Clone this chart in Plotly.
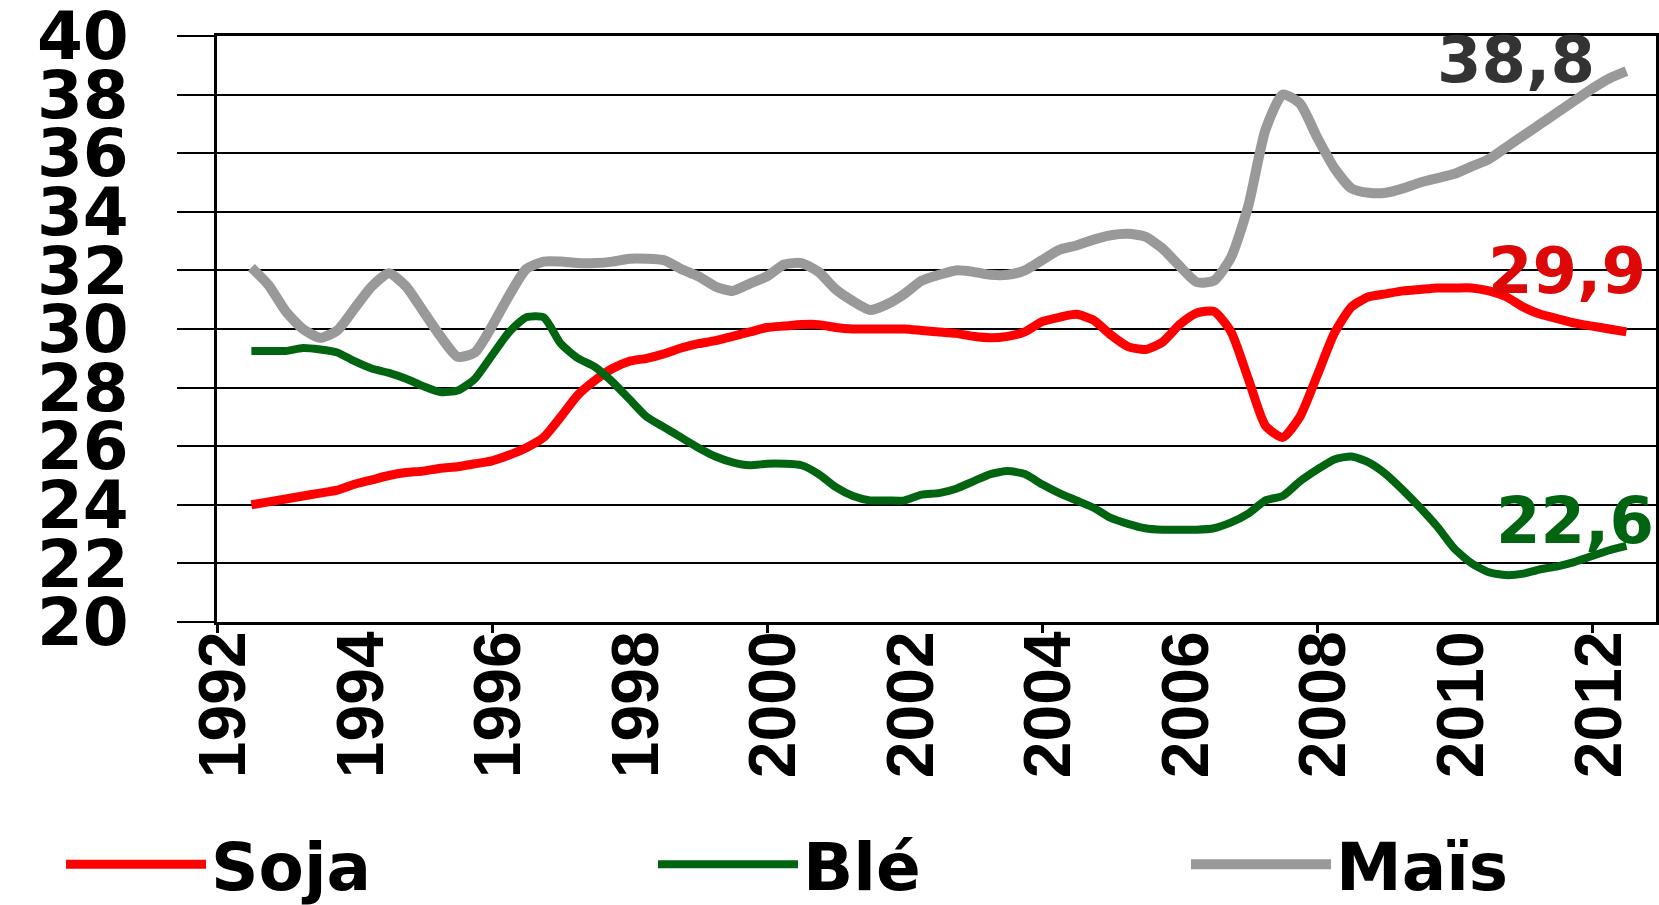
import plotly.graph_objects as go

# Quarterly observation dates (fractional years), mid-1992 to mid-2012
periods = [1992.5 + 0.25 * i for i in range(81)]

soja = [
    24.0, 24.1, 24.2, 24.3, 24.4, 24.5, 24.7, 24.85, 25.0, 25.1,
    25.15, 25.25, 25.3, 25.4, 25.5, 25.7, 25.95, 26.3, 27.0, 27.75,
    28.25, 28.65, 28.9, 29.0, 29.15, 29.35, 29.5, 29.6, 29.75, 29.9,
    30.05, 30.1, 30.15, 30.15, 30.05, 30.0, 30.0, 30.0, 30.0, 29.95,
    29.9, 29.85, 29.75, 29.7, 29.75, 29.9, 30.25, 30.4, 30.5, 30.3,
    29.8, 29.4, 29.3, 29.55, 30.15, 30.55, 30.6, 29.9, 28.3, 26.7,
    26.3, 27.0, 28.4, 29.85, 30.75, 31.1, 31.2, 31.3, 31.35, 31.4,
    31.4, 31.4, 31.3, 31.1, 30.75, 30.5, 30.35, 30.2, 30.1, 30.0,
    29.9,
]
ble = [
    29.25, 29.25, 29.25, 29.35, 29.3, 29.2, 28.9, 28.65, 28.5, 28.3,
    28.05, 27.85, 27.9, 28.3, 29.1, 29.9, 30.4, 30.4, 29.5, 29.0,
    28.7, 28.2, 27.6, 27.0, 26.65, 26.3, 25.95, 25.65, 25.45, 25.35,
    25.4, 25.4, 25.35, 25.05, 24.6, 24.3, 24.15, 24.15, 24.15, 24.35,
    24.4, 24.55, 24.8, 25.05, 25.15, 25.05, 24.7, 24.4, 24.15, 23.9,
    23.55, 23.35, 23.2, 23.15, 23.15, 23.15, 23.2, 23.4, 23.7, 24.15,
    24.3, 24.8, 25.2, 25.55, 25.65, 25.45, 25.05, 24.5, 23.9, 23.25,
    22.5, 22.0, 21.7, 21.6, 21.65, 21.8, 21.9, 22.05, 22.25, 22.45,
    22.6,
]
mais = [
    32.1, 31.5, 30.6, 30.0, 29.7, 29.95, 30.7, 31.45, 31.9, 31.45,
    30.6, 29.75, 29.05, 29.2, 30.1, 31.15, 32.05, 32.3, 32.3, 32.25,
    32.25, 32.3, 32.4, 32.4, 32.35, 32.05, 31.8, 31.45, 31.3, 31.55,
    31.8, 32.2, 32.25, 31.95, 31.35, 30.95, 30.65, 30.85, 31.2, 31.65,
    31.85, 32.0, 31.95, 31.85, 31.85, 32.0, 32.35, 32.7, 32.85, 33.05,
    33.2, 33.25, 33.15, 32.75, 32.15, 31.6, 31.65, 32.45, 34.2, 36.8,
    38.0, 37.7, 36.55, 35.5, 34.8, 34.65, 34.65, 34.8, 35.0, 35.15,
    35.3, 35.55, 35.8, 36.2, 36.6, 37.0, 37.4, 37.8, 38.2, 38.55,
    38.8,
]

series_names = ["Soja", "Blé", "Maïs"]
series_values = [soja, ble, mais]
line_colors = ["#FF0000", "#006410", "#999999"]
line_widths = [9, 8, 10]
label_colors = ["#DD0808", "#006410", "#333333"]
label_shifts = [(22, 61), (30, 25), (-29, 11)]
legend_ids = ["legend", "legend2", "legend3"]
legend_x = [0.0368, 0.3936, 0.7149]

label_years = [1992, 1994, 1996, 1998, 2000, 2002, 2004, 2006, 2008, 2010, 2012]
tick_years = [1992, 1996, 2000, 2004, 2008, 2012]
y_ticks = [20, 22, 24, 26, 28, 30, 32, 34, 36, 38, 40]

x_range = [1992, 2012.93]

fig = go.Figure()
for name, vals, col, w, lg in zip(series_names, series_values, line_colors,
                                  line_widths, legend_ids):
    fig.add_trace(go.Scatter(
        x=periods, y=vals, name=name, mode="lines", legend=lg,
        line=dict(color=col, width=w, shape="spline", smoothing=0.6),
    ))

# invisible trace carrying the secondary x axis (tick marks every 4 years)
fig.add_trace(go.Scatter(x=[None], y=[None], xaxis="x2", showlegend=False,
                         hoverinfo="skip"))

for vals, col, (dx, dy) in zip(series_values, label_colors, label_shifts):
    fig.add_annotation(
        x=periods[-1], y=vals[-1],
        text=f"{vals[-1]:.1f}".replace(".", ","),
        showarrow=False, xanchor="right", yanchor="middle",
        xshift=dx, yshift=dy,
        font=dict(family="DejaVu Sans", size=64, color=col, weight="bold"),
    )

legend_font = dict(family="DejaVu Sans", size=66, color="black", weight="bold")
legends = {}
for lg, lx in zip(legend_ids, legend_x):
    legends[lg] = dict(
        orientation="h", xref="container", yref="container",
        x=lx, y=0.045, xanchor="left", yanchor="middle",
        font=legend_font, itemwidth=140, bgcolor="rgba(0,0,0,0)",
    )

fig.update_layout(
    width=1659, height=905, autosize=False,
    margin=dict(l=217, r=3, t=36, b=283, pad=0, autoexpand=False),
    paper_bgcolor="white", plot_bgcolor="white",
    xaxis=dict(
        range=x_range, tickmode="array", tickvals=label_years,
        ticktext=[str(y) for y in label_years],
        tickangle=-90, ticks="", ticklabelstandoff=-20, ticklabelshift=7,
        automargin=False,
        tickfont=dict(family="Liberation Sans", size=66, color="black", weight="bold"),
        showgrid=False, zeroline=False,
        showline=True, linecolor="black", linewidth=3, mirror=True,
    ),
    xaxis2=dict(
        range=x_range, overlaying="x", anchor="y", side="bottom",
        tickmode="array", tickvals=tick_years, ticks="outside",
        ticklen=10, tickwidth=3, tickcolor="black",
        showticklabels=False, showgrid=False, zeroline=False, showline=False,
    ),
    yaxis=dict(
        range=[20, 40], tickmode="array", tickvals=y_ticks,
        ticks="outside", ticklen=37, tickwidth=2, tickcolor="black",
        ticklabelstandoff=35, ticklabeloverflow="allow", automargin=False,
        tickfont=dict(family="DejaVu Sans", size=66, color="black", weight="bold"),
        showgrid=True, gridcolor="black", gridwidth=2, zeroline=False,
        showline=True, linecolor="black", linewidth=3, mirror=True,
    ),
    showlegend=True,
    **legends,
)

fig.write_html("out.html", post_script="document.body.style.margin='0';",
               config={"displayModeBar": False})
